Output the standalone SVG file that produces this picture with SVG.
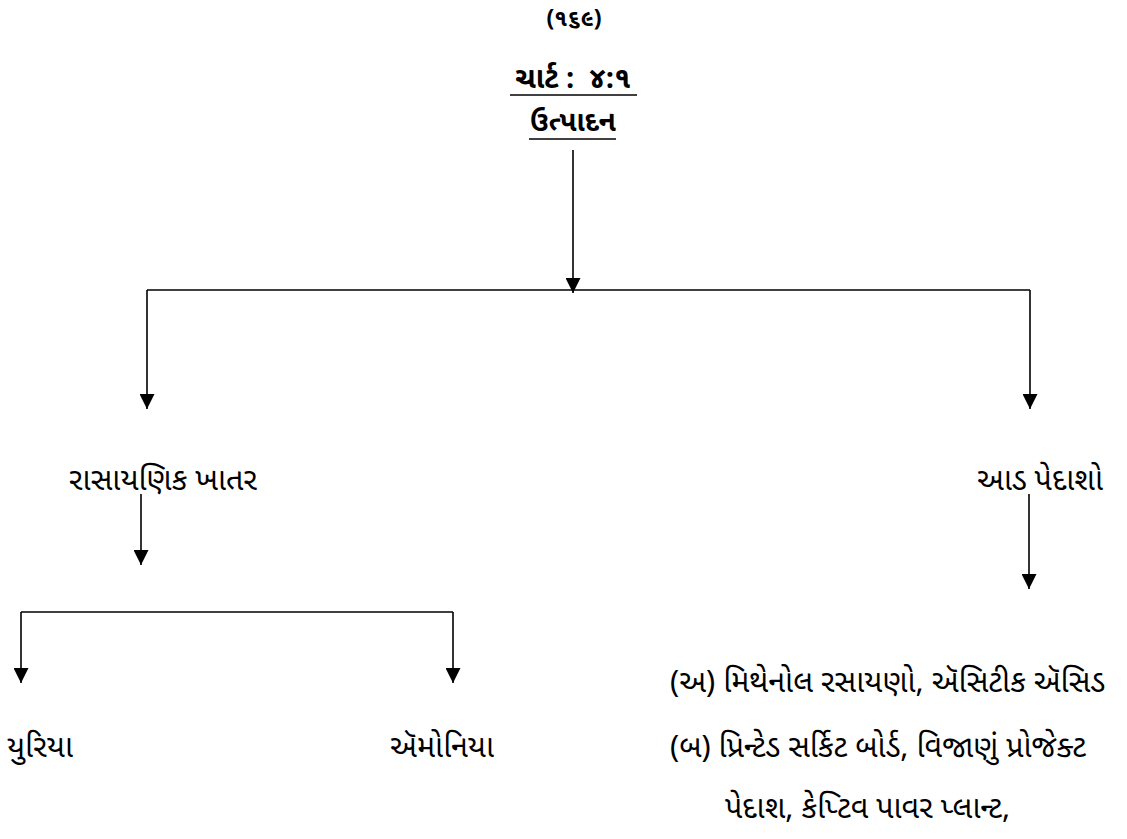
<svg xmlns="http://www.w3.org/2000/svg" width="1127" height="839" viewBox="0 0 1127 839">
<style>
text{font-family:"Noto Sans Gujarati","Lohit Gujarati","Shruti","Noto Sans",sans-serif;fill:#000}
.t{font-size:30.5px}
.b{font-weight:bold}
.c{stroke:#000;stroke-width:1.6;fill:none}
</style>
<defs>
<marker id="ah" viewBox="0 0 15 15" refX="15" refY="7.5" markerWidth="15" markerHeight="15" markerUnits="userSpaceOnUse" orient="auto">
<path d="M0,0 L15,7.5 L0,15 z" fill="#000"/>
</marker>
</defs>
<rect width="1127" height="839" fill="#fff"/>
<g id="page-number"><text x="574" y="26" text-anchor="middle" class="b" font-size="23">(૧૬૯)</text></g>
<g id="title">
<text x="573" y="88" text-anchor="middle" class="b" font-size="29" xml:space="preserve">ચાર્ટ :  ૪:૧</text>
<line x1="510" y1="95" x2="637" y2="95" class="c"/>
<text x="573" y="131" text-anchor="middle" class="b" font-size="28">ઉત્પાદન</text>
<line x1="529" y1="139" x2="616" y2="139" class="c"/>
</g>
<g id="connectors">
<line x1="573" y1="150" x2="573" y2="293" class="c" marker-end="url(#ah)"/>
<line x1="147" y1="290" x2="1030" y2="290" class="c"/>
<line x1="147" y1="290" x2="147" y2="409" class="c" marker-end="url(#ah)"/>
<line x1="1030" y1="290" x2="1030" y2="409" class="c" marker-end="url(#ah)"/>
<line x1="141" y1="494" x2="141" y2="565" class="c" marker-end="url(#ah)"/>
<line x1="21" y1="612" x2="453" y2="612" class="c"/>
<line x1="21" y1="612" x2="21" y2="683" class="c" marker-end="url(#ah)"/>
<line x1="453" y1="612" x2="453" y2="683" class="c" marker-end="url(#ah)"/>
<line x1="1029" y1="494" x2="1029" y2="589" class="c" marker-end="url(#ah)"/>
</g>
<g id="node-khatar"><text x="69" y="490" class="t">રાસાયણિક ખાતર</text></g>
<g id="node-aad"><text x="977" y="490" class="t">આડ પેદાશો</text></g>
<g id="node-urea"><text x="7" y="757" class="t">યુરિયા</text></g>
<g id="node-ammonia"><text x="390" y="757" class="t">ઍમોનિયા</text></g>
<g id="node-list">
<text x="670" y="692" class="t">(અ) મિથેનોલ રસાયણો, ઍસિટીક ઍસિડ</text>
<text x="670" y="757" class="t">(બ) પ્રિન્ટેડ સર્કિટ બોર્ડ, વિજાણું પ્રોજેક્ટ</text>
<text x="725" y="818" class="t">પેદાશ, કેપ્ટિવ પાવર પ્લાન્ટ,</text>
</g>
</svg>
